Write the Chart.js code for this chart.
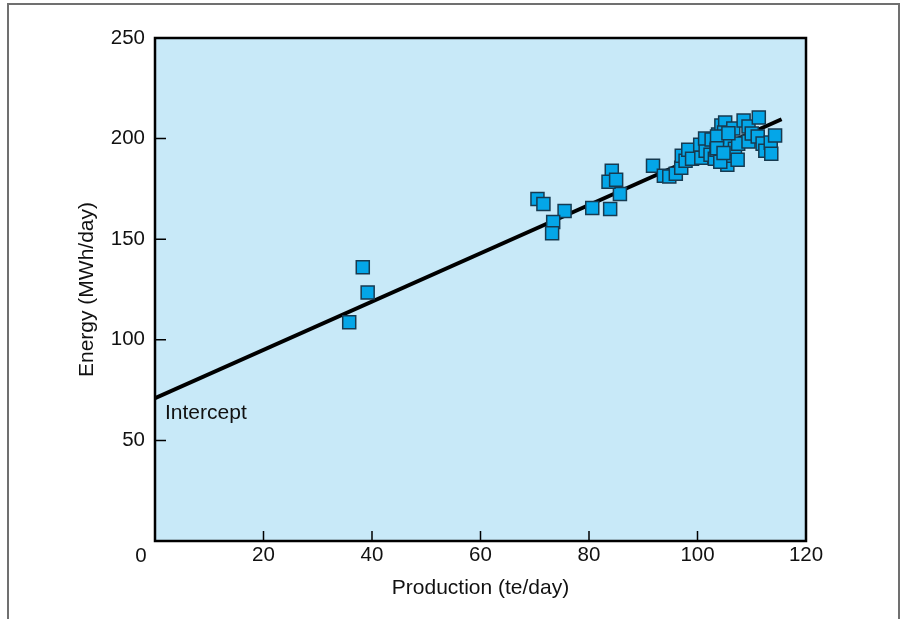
<!DOCTYPE html>
<html>
<head>
<meta charset="utf-8">
<script src="https://cdn.jsdelivr.net/npm/chart.js@4/dist/chart.umd.min.js"></script>
<style>
  html, body { margin: 0; padding: 0; background: #fff; overflow: hidden; }
  #wrap { position: relative; width: 902px; height: 619px; }
  #page { position: absolute; left: 7px; top: 3px; width: 889px; height: 660px;
          border: 2px solid #707070; border-bottom: none; }
  #myChart { position: absolute; left: 0; top: 0; }
</style>
</head>
<body>
<div id="wrap">
  <div id="page"></div>
  <canvas id="myChart" width="902" height="619"></canvas>
</div>
<script>
    // daily production (te/day) and energy use (MWh/day)
    const production = [
      35.8, 38.3, 39.2, 70.5, 71.6, 75.5, 73.4, 73.2, 80.6, 83.9, 85.7, 84.2, 83.6, 85.0,
      91.8, 93.8, 94.8, 96.0, 97.0, 97.1, 97.8, 98.3, 99.0, 100.5, 100.7, 101.5, 101.4,
      102.4, 102.6, 103.2, 103.5, 103.8, 104.0, 104.5, 104.4, 105.1, 104.9, 105.6, 105.5,
      105.7, 105.6, 106.6, 106.9, 107.4, 107.5, 108.5, 109.4, 109.4, 110.0, 111.3, 111.1,
      112.0, 112.5, 113.5, 114.3, 113.6, 104.2, 103.6, 105.7, 103.6, 104.8
    ];
    const energy = [
      108.7, 136.0, 123.5, 170.0, 167.5, 164.0, 158.5, 153.0, 165.5, 165.0, 172.5, 184.0, 178.5, 179.5,
      186.5, 181.5, 181.2, 182.5, 185.5, 191.5, 189.0, 194.5, 190.0, 197.0, 190.5, 194.0, 200.0,
      192.0, 199.5, 190.0, 194.5, 202.0, 198.0, 189.0, 206.5, 208.0, 203.0, 201.0, 187.0,
      191.5, 198.0, 205.0, 195.0, 189.5, 197.5, 209.0, 206.0, 198.5, 202.5, 210.5, 201.0,
      197.5, 194.0, 198.0, 201.5, 192.5, 188.5, 201.0, 202.6, 195.2, 192.8
    ];

    // fitted line: energy = intercept + slope * production
    const intercept = 71;
    const slope = 1.2;
    const fitRange = [0, 115.5];

    const xTicks = [0, 20, 40, 60, 80, 100, 120];
    const yTicks = [0, 50, 100, 150, 200, 250];

    const points = production.map((p, i) => ({ x: p, y: energy[i] }));
    const fitLine = fitRange.map(p => ({ x: p, y: intercept + slope * p }));

    const FONT = "'Liberation Sans', Arial, Helvetica, sans-serif";

    // plot background, frame, inward tick marks and labels
    const plotDecor = {
      id: 'plotDecor',
      beforeDatasetsDraw(chart) {
        const { ctx, chartArea: a } = chart;
        ctx.save();
        ctx.fillStyle = '#c8e9f8';
        ctx.fillRect(a.left, a.top, a.right - a.left, a.bottom - a.top);
        ctx.restore();
      },
      afterDraw(chart) {
        const { ctx, chartArea: a, scales } = chart;
        ctx.save();
        ctx.strokeStyle = '#000';
        ctx.lineWidth = 1.5;
        ctx.beginPath();
        xTicks.slice(1, -1).forEach(v => {
          const px = scales.x.getPixelForValue(v);
          ctx.moveTo(px, a.bottom);
          ctx.lineTo(px, a.bottom - 10);
        });
        yTicks.slice(1, -1).forEach(v => {
          const py = scales.y.getPixelForValue(v);
          ctx.moveTo(a.left, py);
          ctx.lineTo(a.left + 11, py);
        });
        ctx.stroke();

        ctx.lineWidth = 2.5;
        ctx.strokeRect(a.left, a.top, a.right - a.left, a.bottom - a.top);

        ctx.fillStyle = '#111';
        ctx.font = '20.5px ' + FONT;
        ctx.textAlign = 'center';
        ctx.textBaseline = 'middle';
        ctx.fillText('0', a.left - 14, a.bottom + 15);

        ctx.font = '21px ' + FONT;
        ctx.textAlign = 'left';
        ctx.fillText('Intercept', a.left + 10, scales.y.getPixelForValue(intercept - 7.5));
        ctx.restore();
      }
    };

    const ctx = document.getElementById('myChart').getContext('2d');

    const myChart = new Chart(ctx, {
      type: 'scatter',
      data: {
        datasets: [{
          label: 'Daily records',
          data: points,
          pointStyle: 'rect',
          pointRadius: 9.2,
          backgroundColor: '#04a6e8',
          borderColor: '#173a50',
          borderWidth: 1.5,
          order: 0
        }, {
          type: 'line',
          label: 'Fit',
          data: fitLine,
          borderColor: '#000',
          borderWidth: 4,
          pointRadius: 0,
          fill: false,
          order: 1
        }]
      },
      options: {
        responsive: false,
        animation: false,
        devicePixelRatio: 1,
        layout: { padding: { left: 0, right: 96, top: 38, bottom: 0 } },
        plugins: {
          legend: { display: false },
          tooltip: { enabled: false }
        },
        scales: {
          x: {
            type: 'linear',
            min: 0,
            max: 120,
            afterBuildTicks: s => { s.ticks = xTicks.map(v => ({ value: v })); },
            afterFit: s => { s.height = 78; },
            grid: { display: false, drawTicks: false },
            border: { display: false },
            ticks: {
              padding: 2,
              color: '#111',
              font: { family: FONT, size: 20.5 },
              callback: v => (v === 0 ? '' : v)
            },
            title: {
              display: true,
              text: 'Production (te/day)',
              color: '#111',
              font: { family: FONT, size: 21 },
              padding: { top: 0, bottom: 18 }
            }
          },
          y: {
            type: 'linear',
            min: 0,
            max: 250,
            afterBuildTicks: s => { s.ticks = yTicks.map(v => ({ value: v })); },
            afterFit: s => { s.width = 155; },
            grid: { display: false, drawTicks: false },
            border: { display: false },
            ticks: {
              padding: 10,
              color: '#111',
              font: { family: FONT, size: 20.5 },
              callback: v => (v === 0 ? '' : v)
            },
            title: {
              display: true,
              text: 'Energy (MWh/day)',
              color: '#111',
              font: { family: FONT, size: 21 },
              padding: { top: 75, bottom: 0 }
            }
          }
        }
      },
      plugins: [plotDecor]
    });
</script>
</body>
</html>
